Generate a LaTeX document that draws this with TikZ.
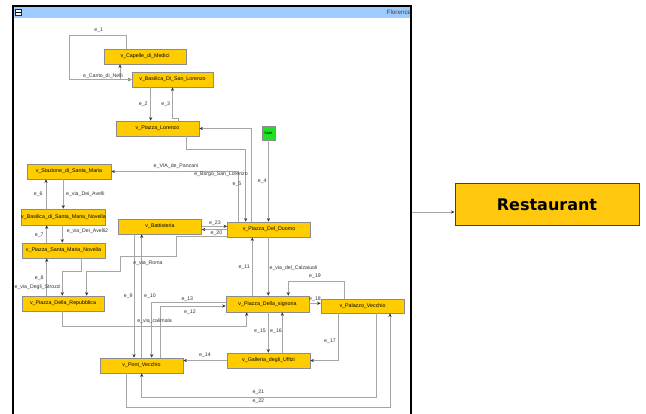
\documentclass[tikz,border=0pt]{standalone}
\usepackage{fontspec}
\setmainfont{Liberation Sans}
\newfontfamily\restfont{DejaVu Sans}
\usetikzlibrary{arrows.meta}
\definecolor{vgold}{HTML}{FFCC00}
\definecolor{restgold}{HTML}{FFC80E}
\definecolor{startgreen}{HTML}{22E022}
\definecolor{titleblue}{HTML}{9CCCFF}
\begin{document}
\begin{tikzpicture}[x=1pt,y=-1pt,
  vbox/.style={draw=black!45, fill=vgold, line width=0.6pt, minimum width=83pt,
    minimum height=15pt, inner sep=0pt, font=\fontsize{5.3}{6}\selectfont},
  startbox/.style={draw=black!45, fill=startgreen, line width=0.6pt, minimum width=13pt,
    minimum height=14pt, inner sep=0pt, font=\fontsize{3.8}{4}\selectfont},
  restbox/.style={draw=black!75, fill=restgold, line width=1pt, minimum width=184pt,
    minimum height=42pt, inner sep=0pt, font=\restfont\bfseries\fontsize{16}{18}\selectfont},
  lbl/.style={font=\fontsize{5.2}{6}\selectfont, text=black!80, inner sep=0pt},
  conn/.style={draw=black!35, line width=0.6pt},
  arr/.style={-{Stealth[length=3.6pt,width=3.2pt,color=black!80]}}]
\useasboundingbox (0,0) rectangle (646,414);

% ---- window ----
\fill[white] (13,6) rectangle (411,414);
\fill[titleblue] (13,6.5) rectangle (411,18);
\begin{scope}
  \clip (13,6) rectangle (410.3,18);
  \node[anchor=west, inner sep=0pt, font=\fontsize{6.3}{7}\selectfont, text=black!75] (wtitle) at (386.5,12.4) {Florence};
\end{scope}
\node[draw=black!85, fill=white, line width=0.6pt, minimum size=6pt, inner sep=0pt] (wicon) at (18.4,12.4) {};
\draw[line width=0.9pt] ([xshift=1pt]wicon.west) -- ([xshift=-1pt]wicon.east);
\draw[line width=1.3pt] (13,414) -- (13,6) -- (411,6) -- (411,414);

% ---- places ----
\node[vbox, minimum width=82pt] (cap) at (145,56.5) {v\_Capelle\_di\_Medici};
\node[vbox, minimum width=81pt] (bsl) at (172.5,79.5) {v\_Basilica\_Di\_San\_Lorenzo};
\node[vbox] (plo) at (157.5,128.5) {v\_Piazza\_Lorenzo};
\node[startbox] (start) at (268.5,133) {Start};
\node[vbox, minimum width=84pt] (sta) at (69,171.5) {v\_Stazione\_di\_Santa\_Maria};
\node[vbox, minimum height=16pt] (bsmn) at (63.5,217) {v\_Basilica\_di\_Santa\_Maria\_Novella};
\node[vbox] (psmn) at (63.5,250.5) {v\_Piazza\_Santa\_Maria\_Novella};
\node[vbox] (bat) at (160,226.5) {v\_Battisteria};
\node[vbox] (duo) at (269,229.5) {v\_Piazza\_Del\_Duomo};
\node[vbox, minimum width=82pt] (rep) at (63,303.5) {v\_Piazza\_Della\_Repubblica};
\node[vbox, minimum height=16pt] (sig) at (267.5,304) {v\_Piazza\_Della\_signoria};
\node[vbox, minimum height=14pt] (pal) at (362.5,306) {v\_Palazzo\_Vecchio};
\node[vbox] (uff) at (268.5,360.5) {v\_Galleria\_degli\_Uffizi};
\node[vbox] (pon) at (141.5,365.5) {v\_Pont\_Vecchio};

\node[restbox] (rest) at (547,205) {Restaurant};

% ---- streets ----
\draw[conn,arr] ([xshift=-18.3pt]cap.north) |- (69.3,35) |- (bsl.west);
\draw[conn,arr] (bsl.west) -| ([xshift=-25pt]cap.south);
\draw[conn,arr] ([xshift=-21.8pt]bsl.south) -- ([xshift=-6.8pt]plo.north);
\draw[conn,arr] ([xshift=20.8pt]plo.north) |- (172.5,118.3) -- (bsl.south);
\draw[conn,arr] ([xshift=28.5pt]plo.south) |- (245.7,149.3) -- ([xshift=-23.3pt]duo.north);
\draw[conn,arr] ([xshift=-18pt]duo.north) |- (plo.east);
\draw[conn,arr] (start.south) -- ([xshift=-0.5pt]duo.north);
\draw[conn,arr] ([xshift=-30.7pt]duo.north) |- (sta.east);
\draw[conn,arr] ([xshift=-17.5pt]bsmn.north) -- ([xshift=-23pt]sta.south);
\draw[conn,arr] ([xshift=-5.7pt]sta.south) -- ([xshift=-0.2pt]bsmn.north);
\draw[conn,arr] ([xshift=-16.8pt]psmn.north) -- ([xshift=-16.8pt]bsmn.south);
\draw[conn,arr] ([xshift=-1.2pt]bsmn.south) -- ([xshift=-1.2pt]psmn.north);
\draw[conn,arr] ([xshift=-16.3pt]rep.north) -- ([xshift=-16.8pt]psmn.south);
\draw[conn,arr] ([xshift=18.2pt]psmn.south) |- (62.3,271.7) -- ([xshift=-0.7pt]rep.north);
\draw[conn,arr] ([yshift=0.5pt]duo.south west) -| (176.7,256.5) -| (120,271.7) -| ([xshift=23.7pt]rep.north);
\draw[conn,arr] ([yshift=0.2pt]bat.east) -- ([yshift=3.2pt]duo.west);
\draw[conn,arr] (duo.west) -- ([yshift=-3pt]bat.east);
\draw[conn,arr] ([xshift=-26pt]bat.south) -- ([xshift=-7.5pt]pon.north);
\draw[conn,arr] ([xshift=0.2pt]pon.north) -- ([xshift=-18.3pt]bat.south);
\draw[conn,arr] ([yshift=1.3pt]sig.west) -| ([xshift=10.2pt]pon.north);
\draw[conn,arr] ([xshift=19.2pt]pon.north) |- ([yshift=-2pt]sig.west);
\draw[conn,arr] ([xshift=-0.7pt]rep.south) |- (246.7,326.7) -- ([xshift=-20.8pt]sig.south);
\draw[conn,arr] ([xshift=-15.2pt]sig.north) -- ([xshift=-16.7pt]duo.south);
\draw[conn,arr] ([xshift=-0.7pt]duo.south) -- ([xshift=0.8pt]sig.north);
\draw[conn,arr] ([xshift=-18.5pt]pal.north) |- (288.3,281.7) -- ([xshift=20.8pt]sig.north);
\draw[conn,arr] ([yshift=0.7pt]sig.east) -- ([yshift=2.7pt]pal.west);
\draw[conn,arr] ([xshift=0.8pt]sig.south) -- ([xshift=-0.2pt]uff.north);
\draw[conn,arr] ([xshift=13.8pt]uff.north) -- ([xshift=14.8pt]sig.south);
\draw[conn,arr] ([xshift=-24.2pt]pal.south) |- (uff.east);
\draw[conn,arr] (uff.west) -- ([yshift=5pt]pon.east);
\draw[conn,arr] ([xshift=13.5pt]pal.south) |- (141.7,397.3) -- ([xshift=0.2pt]pon.south);
\draw[conn,arr] ([xshift=-14.8pt]pon.south) |- (390,407.7) -- ([xshift=27.5pt]pal.south);

\coordinate (wexit) at (411.7,212);
\draw[conn,arr] (wexit) -- ([yshift=-7pt]rest.west);

% ---- street names ----
\node[lbl] (l1) at (98.7,30) {e\_1};
\node[lbl] (lnelli) at (103,76) {e\_Canto\_di\_Nelli};
\node[lbl] (l2) at (143.3,104.3) {e\_2};
\node[lbl] (l3) at (165.7,104.3) {e\_3};
\node[lbl] (l4) at (262.3,181) {e\_4};
\node[lbl] (l5) at (237,184) {e\_5};
\node[lbl] (lpanz) at (176,166) {e\_VIA\_de\_Panzani};
\node[lbl] (lborgo) at (221,174.5) {e\_Borgo\_San\_Lorenzo};
\node[lbl] (l6) at (38.3,194.3) {e\_6};
\node[lbl, anchor=west] (lavelli) at (66,194.3) {e\_via\_Dei\_Avelli};
\node[lbl] (l7) at (39.3,235) {e\_7};
\node[lbl, anchor=west] (lavelli2) at (66.7,230.7) {e\_via\_Dei\_Avelli2};
\node[lbl] (l8) at (39.3,278.5) {e\_8};
\node[lbl, anchor=west] (lstrozzi) at (14.5,287) {e\_via\_Degli\_Strozzi};
\node[lbl] (lroma) at (148,263.3) {e\_via\_Roma};
\node[lbl] (l23) at (215,223) {e\_23};
\node[lbl] (l20) at (216.5,233.3) {e\_20};
\node[lbl] (l9) at (128.3,296.3) {e\_9};
\node[lbl] (l10) at (150,296.3) {e\_10};
\node[lbl] (l13) at (187.3,299.3) {e\_13};
\node[lbl] (l12) at (190,312.7) {e\_12};
\node[lbl] (lcalim) at (154.5,321) {e\_via\_calimala};
\node[lbl] (l11) at (244.3,267.7) {e\_11};
\node[lbl, anchor=west] (lcalz) at (269.5,267.7) {e\_via\_del\_Calzaiuoli};
\node[lbl] (l19) at (315,276) {e\_19};
\node[lbl] (l18) at (315,299) {e\_18};
\node[lbl] (l15) at (260,331.7) {e\_15};
\node[lbl] (l16) at (276,331.7) {e\_16};
\node[lbl] (l17) at (330,341) {e\_17};
\node[lbl] (l14) at (205,355.7) {e\_14};
\node[lbl] (l21) at (258.3,392.3) {e\_21};
\node[lbl] (l22) at (258.3,401.7) {e\_22};
\end{tikzpicture}
\end{document}
